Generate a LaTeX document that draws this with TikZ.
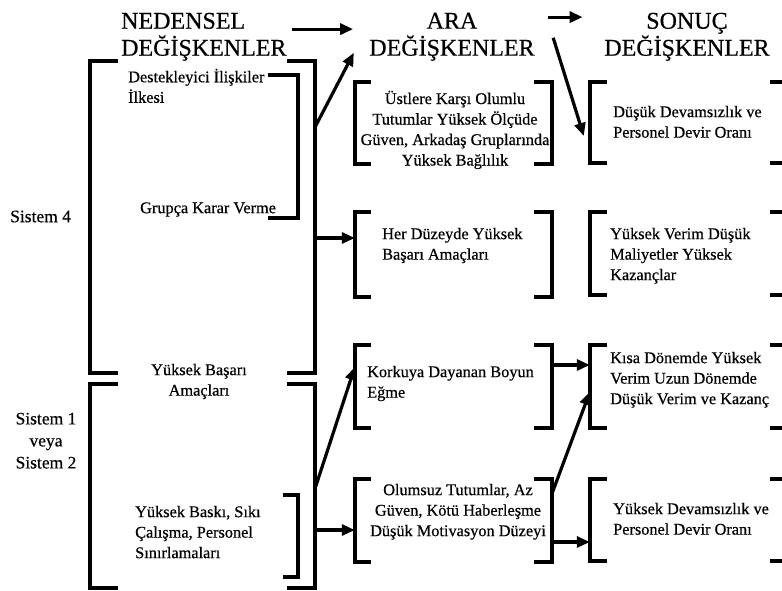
\documentclass[tikz,border=0pt]{standalone}
\usepackage{fontspec}
\setmainfont{Liberation Serif}[FakeBold=0.5]
\usetikzlibrary{arrows.meta}

\begin{document}
\begin{tikzpicture}[
  x=1pt, y=-1pt,
  txt/.style  ={font=\fontsize{16.3}{20.5}\selectfont, inner sep=0pt, align=left,
                execute at begin node=\strut},
  txtc/.style ={txt, align=center},
  sys/.style  ={txt, font=\fontsize{17.5}{22}\selectfont, align=center},
  head/.style ={font=\fontsize{24}{27}\selectfont, inner sep=0pt, align=center,
                execute at begin node=\strut},
  span/.style ={rectangle, inner sep=0pt},
  brk/.style  ={line width=4pt},
  arr/.style  ={-{Triangle[length=13pt,width=11pt]}, line width=3.2pt},
]
\path[fill=white, use as bounding box] (0,0) rectangle (782,590);

% --- Headings ---
\node[head, align=left, anchor=north west] (ned) at (121, 12.6) {NEDENSEL\\DEĞİŞKENLER};
\node[head, anchor=north] (ara) at (452, 12.6) {ARA\\DEĞİŞKENLER};
\node[head, anchor=north] (son) at (687, 12.6) {SONUÇ\\DEĞİŞKENLER};

% --- Bracket spans ---
\node[span, minimum width=225pt, minimum height=312pt] (s4box)  at (202.5, 217)   {};
\node[span, minimum width=225pt, minimum height=204pt] (s12box) at (202.5, 486)   {};
\node[span, minimum width=30pt,  minimum height=143pt] (dbox)   at (283, 146.5)   {};
\node[span, minimum width=15pt,  minimum height=82pt]  (bbox)   at (290.5, 536)   {};
\node[span, minimum width=197pt, minimum height=82pt]  (m1)     at (453.5, 123)   {};
\node[span, minimum width=197pt, minimum height=85pt]  (m2)     at (453.5, 254.5) {};
\node[span, minimum width=197pt, minimum height=83pt]  (m3)     at (453.5, 386.5) {};
\node[span, minimum width=197pt, minimum height=83pt]  (m4)     at (453.5, 520.5) {};
\node[span, minimum width=192pt, minimum height=81pt]  (r1)     at (686, 122.5)   {};
\node[span, minimum width=192pt, minimum height=83pt]  (r2)     at (686, 253.5)   {};
\node[span, minimum width=192pt, minimum height=83pt]  (r3)     at (686, 386.5)   {};
\node[span, minimum width=192pt, minimum height=82pt]  (r4)     at (686, 520)     {};

% --- Left column texts ---
\node[txt, anchor=north west] (dest)  at (128, 68.6)   {Destekleyici İlişkiler\\İlkesi};
\node[txt, anchor=north west] (grup)  at (140, 198.6)  {Grupça Karar Verme};
\node[sys, anchor=north west] (sis4)  at (10, 206.6)   {Sistem 4};
\node[txtc, anchor=north]     (ybas)  at (199, 363.6)  {Yüksek Başarı\\Amaçları};
\node[sys, anchor=north]      (sis12) at (46, 412.6)   {Sistem 1\\veya\\Sistem 2};
\node[txt, anchor=north west] (bask)  at (135, 505.6)  {Yüksek Baskı, Sıkı\\Çalışma, Personel\\Sınırlamaları};

% --- Middle column texts ---
\node[txtc, anchor=north]     (ust)   at (455, 90.6)   {Üstlere Karşı Olumlu\\Tutumlar Yüksek Ölçüde\\Güven, Arkadaş Gruplarında\\Yüksek Bağlılık};
\node[txt, anchor=north west] (her)   at (382, 227.6)  {Her Düzeyde Yüksek\\Başarı Amaçları};
\node[txt, anchor=north west] (kor)   at (367, 365.6)  {Korkuya Dayanan Boyun\\Eğme};
\node[txtc, anchor=north]     (olu)   at (458, 483.6)  {Olumsuz Tutumlar, Az\\Güven, Kötü Haberleşme\\Düşük Motivasyon Düzeyi};

% --- Right column texts ---
\node[txt, anchor=north west] (ddev)  at (613, 105.6)  {Düşük Devamsızlık ve\\Personel Devir Oranı};
\node[txt, anchor=north west] (yver)  at (610, 227.6)  {Yüksek Verim Düşük\\Maliyetler Yüksek\\Kazançlar};
\node[txt, anchor=north west] (kisa)  at (610, 351.6)  {Kısa Dönemde Yüksek\\Verim Uzun Dönemde\\Düşük Verim ve Kazanç};
\node[txt, anchor=north west] (ydev)  at (613, 502.6)  {Yüksek Devamsızlık ve\\Personel Devir Oranı};

% --- Brackets: left column ---
\draw[brk] ([xshift=28pt]s4box.north west) -- (s4box.north west) -- (s4box.south west) -- ([xshift=28pt]s4box.south west);
\draw[brk] ([xshift=-28pt]s4box.north east) -- (s4box.north east) -- (s4box.south east) -- ([xshift=-28pt]s4box.south east);
\draw[brk] ([xshift=28pt]s12box.north west) -- (s12box.north west) -- (s12box.south west) -- ([xshift=28pt]s12box.south west);
\draw[brk] ([xshift=-28pt]s12box.north east) -- (s12box.north east) -- (s12box.south east) -- ([xshift=-28pt]s12box.south east);
\draw[brk] (dbox.north west) -- (dbox.north east) -- (dbox.south east) -- (dbox.south west);
\draw[brk] (bbox.north west) -- (bbox.north east) -- (bbox.south east) -- (bbox.south west);

% --- Brackets: middle column ---
\draw[brk] ([xshift=16pt]m1.north west) -- (m1.north west) -- (m1.south west) -- ([xshift=16pt]m1.south west);
\draw[brk] ([xshift=-18pt]m1.north east) -- (m1.north east) -- (m1.south east) -- ([xshift=-18pt]m1.south east);
\draw[brk] ([xshift=16pt]m2.north west) -- (m2.north west) -- (m2.south west) -- ([xshift=16pt]m2.south west);
\draw[brk] ([xshift=-18pt]m2.north east) -- (m2.north east) -- (m2.south east) -- ([xshift=-18pt]m2.south east);
\draw[brk] ([xshift=16pt]m3.north west) -- (m3.north west) -- (m3.south west) -- ([xshift=16pt]m3.south west);
\draw[brk] ([xshift=-18pt]m3.north east) -- (m3.north east) -- (m3.south east) -- ([xshift=-18pt]m3.south east);
\draw[brk] ([xshift=16pt]m4.north west) -- (m4.north west) -- (m4.south west) -- ([xshift=16pt]m4.south west);
\draw[brk] ([xshift=-18pt]m4.north east) -- (m4.north east) -- (m4.south east) -- ([xshift=-18pt]m4.south east);

% --- Brackets: right column ---
\draw[brk] ([xshift=17pt]r1.north west) -- (r1.north west) -- (r1.south west) -- ([xshift=17pt]r1.south west);
\draw[brk] ([xshift=-12pt]r1.north east) -- (r1.north east) (r1.south east) -- ([xshift=-12pt]r1.south east);
\draw[brk] ([xshift=17pt]r2.north west) -- (r2.north west) -- (r2.south west) -- ([xshift=17pt]r2.south west);
\draw[brk] ([xshift=-12pt]r2.north east) -- (r2.north east) (r2.south east) -- ([xshift=-12pt]r2.south east);
\draw[brk] ([xshift=17pt]r3.north west) -- (r3.north west) -- (r3.south west) -- ([xshift=17pt]r3.south west);
\draw[brk] ([xshift=-12pt]r3.north east) -- (r3.north east) (r3.south east) -- ([xshift=-12pt]r3.south east);
\draw[brk] ([xshift=17pt]r4.north west) -- (r4.north west) -- (r4.south west) -- ([xshift=17pt]r4.south west);
\draw[brk] ([xshift=-12pt]r4.north east) -- (r4.north east) (r4.south east) -- ([xshift=-12pt]r4.south east);

% --- Arrows ---
\draw[arr] ([shift={(5pt,-16.5pt)}]ned.north east) -- ([shift={(-16pt,-16.5pt)}]ara.north west);
\draw[arr] ([shift={(13.5pt,-4.5pt)}]ara.north east) -- ([shift={(-21.5pt,-4.5pt)}]son.north west);
\draw[arr] ([yshift=-66pt]s4box.north east) -- ([shift={(-1pt,29pt)}]m1.north west);
\draw[arr] ([yshift=-21pt]s4box.east) -- ([yshift=-21pt]s4box.east -| m2.west);
\draw[arr] ([yshift=-2pt]s12box.east) -- ([yshift=19.5pt]m3.west);
\draw[arr] ([yshift=-44pt]s12box.east) -- ([yshift=-44pt]s12box.east -| m4.west);
\draw[arr] ([shift={(1pt,44pt)}]m1.north east) -- ([shift={(-6pt,-13.5pt)}]r1.west);
\draw[arr] ([yshift=21.5pt]m3.east) -- ([yshift=21.5pt]m3.east -| r3.west);
\draw[arr] ([yshift=27.5pt]m4.east) -- ([yshift=-5.5pt]r3.west);
\draw[arr] ([yshift=-21.5pt]m4.east) -- ([yshift=-21.5pt]m4.east -| r4.west);
\end{tikzpicture}
\end{document}
